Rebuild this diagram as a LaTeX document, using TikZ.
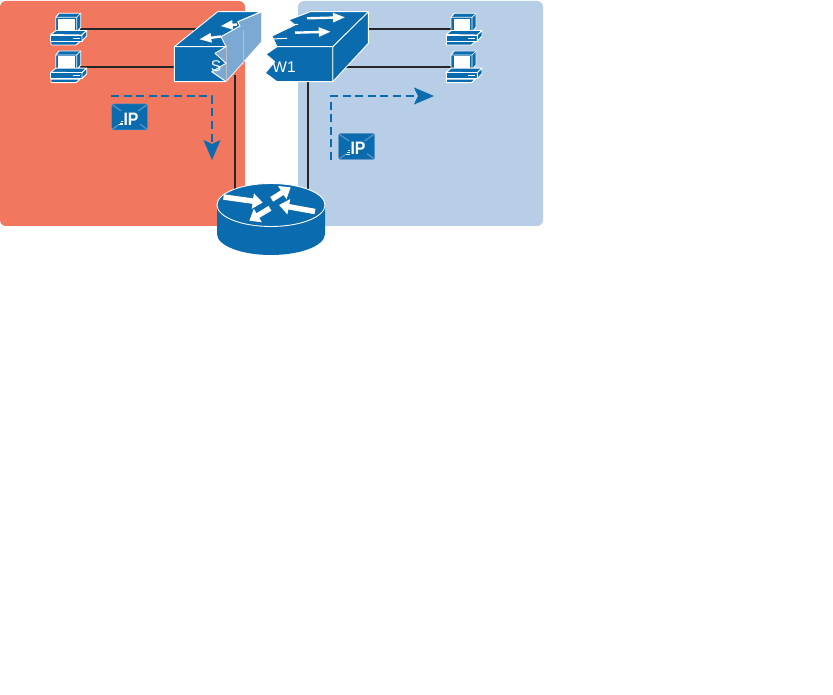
\documentclass[tikz,border=0pt]{standalone}
\usepackage{fontspec}
\setmainfont{Liberation Sans}
\usetikzlibrary{arrows.meta}
\definecolor{devblue}{HTML}{0A6BAE}
\definecolor{sidelt}{HTML}{7BA9D3}
\definecolor{xline}{HTML}{5C93C4}
\definecolor{vlanred}{HTML}{F2775F}
\definecolor{vlanblue}{HTML}{B7CEE6}
\tikzset{
  zone/.style={rounded corners=6pt},
  cable/.style={line width=1.5pt,color=black!85},
  flow/.style={devblue,line width=1.6pt,dash pattern=on 8pt off 4.6pt,
    -{Stealth[length=20pt,width=17pt,inset=4pt]}},
  dev/.style={fill=devblue,draw=white,line width=.9pt,line join=round},
  swarrow/.style={white,line width=2.4pt,-{Triangle[length=12pt,width=9pt]}},
  rtarrow/.style={white,line width=5.5pt,-{Triangle[length=10pt,width=15pt]}},
  lbl/.style={white,inner sep=0pt,font=\fontsize{15.5}{15.5}\selectfont},
  pc/.pic={
    \path[dev] (8.3,0) -- (30,0) -- (30,14) -- (26,19) -- (5,19) -- (5,4) -- cycle;
    \draw[white,line width=.7pt] (5,4) -- (26,4) -- (30,0) (26,4) -- (26,19);
    \fill[white] (7.6,5.4) rectangle (24.3,17.4);
    \path[dev] (0,21.2) -- (5.3,17.2) -- (36,17.2) -- (31.3,21.7) -- cycle;
    \path[dev] (0,21.7) rectangle (31.3,27.7);
    \path[dev] (31.3,21.7) -- (36,17.2) -- (36,22.7) -- (31.3,27.7) -- cycle;
    \path[dev] (.3,28.2) -- (29.3,28.2) -- (25.3,31.7) -- (.3,31.7) -- cycle;
    \draw[white,line width=.8pt] (22,24.7) -- (29,24.7);
  },
  ipenv/.pic={
    \fill[devblue,draw=xline,line width=.5pt,rounded corners=2pt] (0,0) rectangle (36,26);
    \draw[xline,line width=1.2pt] (1,1) -- (35,25) (35,1) -- (1,25);
    \fill[devblue] (7,7.5) rectangle (28,23);
    \draw[white,line width=.7pt] (7.5,20.7) -- (11.3,20.7) (8.2,18.9) -- (11.3,18.9) (9,17.1) -- (11.3,17.1);
    \node[white,inner sep=0pt,xscale=.88,font=\fontsize{18}{18}\selectfont\bfseries] at (19.3,15) {IP};
  }
}
\begin{document}
\begin{tikzpicture}[x=1pt,y=-1pt]
  \useasboundingbox (0,0) rectangle (833,695);
  \fill[vlanred,zone] (0,1) rectangle (245,226);
  \fill[vlanblue,zone] (298,1) rectangle (543,226);

  % ports
  \coordinate (pcA) at (80,29);
  \coordinate (pcB) at (80,67);
  \coordinate (pcC) at (452,29);
  \coordinate (pcD) at (452,67);
  \coordinate (swLa) at (200,29);
  \coordinate (swLb) at (180,67);
  \coordinate (swRa) at (360,29);
  \coordinate (swRb) at (340,67);
  \coordinate (swLc) at (235,75);
  \coordinate (swRc) at (308,75);
  \coordinate (rtL) at (235,195);
  \coordinate (rtR) at (308,195);

  \draw[cable] (pcA) -- (swLa);
  \draw[cable] (pcB) -- (swLb);
  \draw[cable] (pcC) -- (swRa);
  \draw[cable] (pcD) -- (swRb);
  \draw[cable] (swLc) -- (rtL);
  \draw[cable] (swRc) -- (rtR);

  \pic at (50.7,13.3) {pc};
  \pic at (50.7,51) {pc};
  \pic at (446,13.3) {pc};
  \pic at (446,51) {pc};

  % left half of switch
  \path[fill=sidelt,draw=white,line width=.7pt,line join=round]
    (261.7,12) -- (261.7,41.7) -- (226,81.7) -- (211.7,71.7) -- (215,53.3)
    -- (221,36.7) -- (240,26) -- (237.7,21.7) -- cycle;
  \draw[black!25,line width=.7pt] (243.7,30) -- (243.7,65) (226,45) -- (226,81.7);
  \path[dev] (174.3,46.7) -- (217.7,11.7) -- (261,11.7) -- (237.7,21.7) -- (240,26)
    -- (221,36.7) -- (226,46.7) -- cycle;
  \path[dev] (174.3,46.7) -- (226,46.7) -- (215,53.3) -- (226,63.3) -- (211.7,71.7)
    -- (226,81.7) -- (174.3,81.7) -- cycle;
  \node[lbl] (swL) at (216,66.5) {S};
  \draw[swarrow] (237,24.5) -- (220.7,26);
  \draw[swarrow] (221,36.5) -- (199.3,39.3);

  % right half of switch
  \path[dev] (332.7,46.7) -- (368.3,11.7) -- (368.3,43.3) -- (332.7,81.7) -- cycle;
  \path[dev] (310.3,11.7) -- (368.3,11.7) -- (332.7,46.7) -- (277,46.7) -- (272,36)
    -- (295,25) -- (288.7,20) -- cycle;
  \path[dev] (277,46.7) -- (332.7,46.7) -- (332.7,81.7) -- (277,81.7) -- (265.3,73)
    -- (274.7,61.7) -- (266,54.3) -- cycle;
  \node[lbl] (swR) at (284,67.5) {W1};
  \draw[swarrow] (307,18.3) -- (345,17.3);
  \draw[swarrow] (295,32.7) -- (330.7,31.7);
  \draw[white,line width=1pt] (288,25) -- (298,24.3) (272,39) -- (287,38.3);

  % router
  \fill[devblue] (217,205) -- (217,234) arc[start angle=180,end angle=0,x radius=54,y radius=21]
    -- (325,205) -- cycle;
  \path[dev] (271,205) ellipse[x radius=54,y radius=21.5];
  \draw[rtarrow] (223.5,197) -- (262.7,202.5);
  \draw[rtarrow] (271.7,199.3) -- (290.7,187.3);
  \draw[rtarrow] (315,211.5) -- (279,205);
  \draw[rtarrow] (270,208.3) -- (249.3,220.7);

  % packets
  \pic at (111.7,104) {ipenv};
  \pic at (338.7,133.5) {ipenv};
  \coordinate (flowLa) at (111,96);
  \coordinate (flowLb) at (212,160);
  \coordinate (flowRa) at (331,160);
  \coordinate (flowRb) at (434,96);
  \draw[flow] (flowLa) -| (flowLb);
  \draw[flow] (flowRa) |- (flowRb);
\end{tikzpicture}
\end{document}
